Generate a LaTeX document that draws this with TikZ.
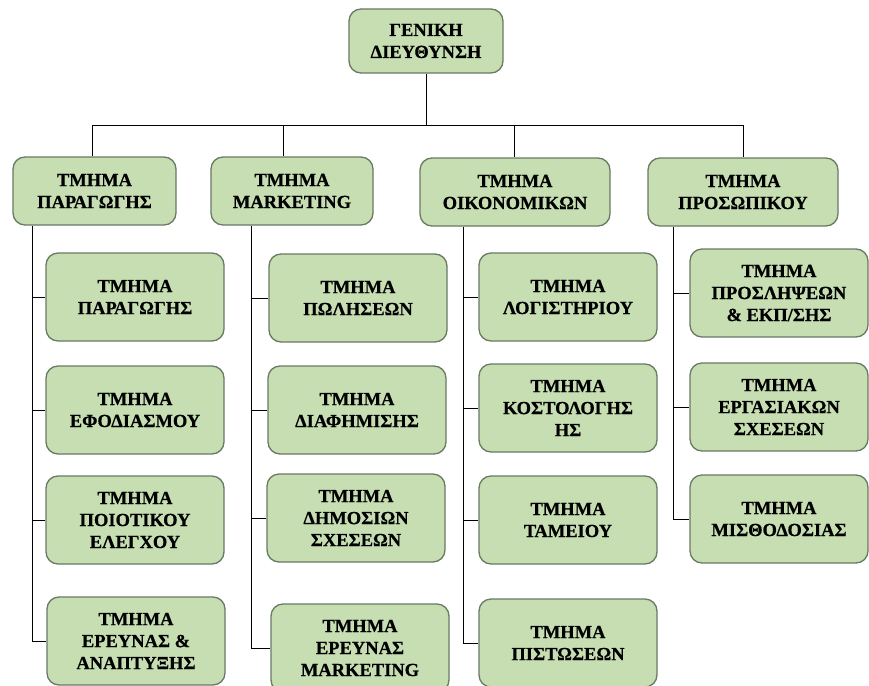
\documentclass[tikz,border=0pt]{standalone}
\usepackage{fontspec}
\setmainfont{Liberation Serif}
\newfontfamily\boxfont[FakeBold=0.6]{Liberation Serif Bold}
\definecolor{boxgreen}{RGB}{198,222,178}
\definecolor{boxline}{RGB}{105,122,100}
\begin{document}
\begin{tikzpicture}[x=1pt,y=-1pt,line width=1pt,
	dept/.style={draw=boxline,line width=1.3pt,fill=boxgreen,rounded corners=12pt,align=center,
		font=\boxfont\fontsize{18.5}{22}\selectfont,inner sep=0pt},
	top/.style={dept,minimum height=68pt},
	sub/.style={dept,minimum width=178pt,minimum height=88pt}]
	\clip (0,0) rectangle (869,685);
	% director
	\node[dept,minimum width=154pt,minimum height=64pt] (dir) at (426,41) {ΓΕΝΙΚΗ\\ΔΙΕΥΘΥΝΣΗ};
	% departments
	\node[top,minimum width=163pt] (prod) at (94.5,191) {ΤΜΗΜΑ\\ΠΑΡΑΓΩΓΗΣ};
	\node[top,minimum width=162pt] (mkt) at (292,191) {ΤΜΗΜΑ\\MARKETING};
	\node[top,minimum width=190pt] (fin) at (515,192) {ΤΜΗΜΑ\\ΟΙΚΟΝΟΜΙΚΩΝ};
	\node[top,minimum width=190pt] (hr) at (743,192) {ΤΜΗΜΑ\\ΠΡΟΣΩΠΙΚΟΥ};
	% sub-departments
	\node[sub] (prod1) at (135,297) {ΤΜΗΜΑ\\ΠΑΡΑΓΩΓΗΣ};
	\node[sub] (prod2) at (135,410) {ΤΜΗΜΑ\\ΕΦΟΔΙΑΣΜΟΥ};
	\node[sub] (prod3) at (135,520) {ΤΜΗΜΑ\\ΠΟΙΟΤΙΚΟΥ\\ΕΛΕΓΧΟΥ};
	\node[sub] (prod4) at (136,641) {ΤΜΗΜΑ\\ΕΡΕΥΝΑΣ \&\\ΑΝΑΠΤΥΞΗΣ};
	\node[sub] (mkt1) at (358,298) {ΤΜΗΜΑ\\ΠΩΛΗΣΕΩΝ};
	\node[sub] (mkt2) at (357,410) {ΤΜΗΜΑ\\ΔΙΑΦΗΜΙΣΗΣ};
	\node[sub] (mkt3) at (356,518) {ΤΜΗΜΑ\\ΔΗΜΟΣΙΩΝ\\ΣΧΕΣΕΩΝ};
	\node[sub] (mkt4) at (360,648) {ΤΜΗΜΑ\\ΕΡΕΥΝΑΣ\\MARKETING};
	\node[sub] (fin1) at (568,297) {ΤΜΗΜΑ\\ΛΟΓΙΣΤΗΡΙΟΥ};
	\node[sub] (fin2) at (568,408) {ΤΜΗΜΑ\\ΚΟΣΤΟΛΟΓΗΣ\\ΗΣ};
	\node[sub] (fin3) at (568,520) {ΤΜΗΜΑ\\ΤΑΜΕΙΟΥ};
	\node[sub] (fin4) at (568,643) {ΤΜΗΜΑ\\ΠΙΣΤΩΣΕΩΝ};
	\node[sub] (hr1) at (779,293) {ΤΜΗΜΑ\\ΠΡΟΣΛΗΨΕΩΝ\\\& ΕΚΠ/ΣΗΣ};
	\node[sub] (hr2) at (779,407) {ΤΜΗΜΑ\\ΕΡΓΑΣΙΑΚΩΝ\\ΣΧΕΣΕΩΝ};
	\node[sub] (hr3) at (779,519) {ΤΜΗΜΑ\\ΜΙΣΘΟΔΟΣΙΑΣ};
	% bus
	\coordinate (b1) at (92,125);
	\coordinate (b2) at (283,125);
	\coordinate (b3) at (514,125);
	\coordinate (b4) at (743,125);
	\draw (dir.south) -- (dir.south |- b1);
	\draw (b1) -- (b4);
	\draw (b1) -- (b1 |- prod.north) (b2) -- (b2 |- mkt.north)
		(b3) -- (b3 |- fin.north) (b4) -- (b4 |- hr.north);
	% trunks
	\coordinate (t1) at (32,0);
	\coordinate (t2) at (251,0);
	\coordinate (t3) at (463,0);
	\coordinate (t4) at (673,0);
	\draw (t1 |- prod.south) -- (t1 |- prod4.west);
	\draw (t2 |- mkt.south) -- (t2 |- mkt4.west);
	\draw (t3 |- fin.south) -- (t3 |- fin4.west);
	\draw (t4 |- hr.south) -- (t4 |- hr3.west);
	\foreach \i in {1,...,4} {
		\draw (t1 |- prod\i.west) -- (prod\i.west);
		\draw (t2 |- mkt\i.west) -- (mkt\i.west);
		\draw (t3 |- fin\i.west) -- (fin\i.west);
	}
	\foreach \i in {1,2,3}
		\draw (t4 |- hr\i.west) -- (hr\i.west);
\end{tikzpicture}
\end{document}
